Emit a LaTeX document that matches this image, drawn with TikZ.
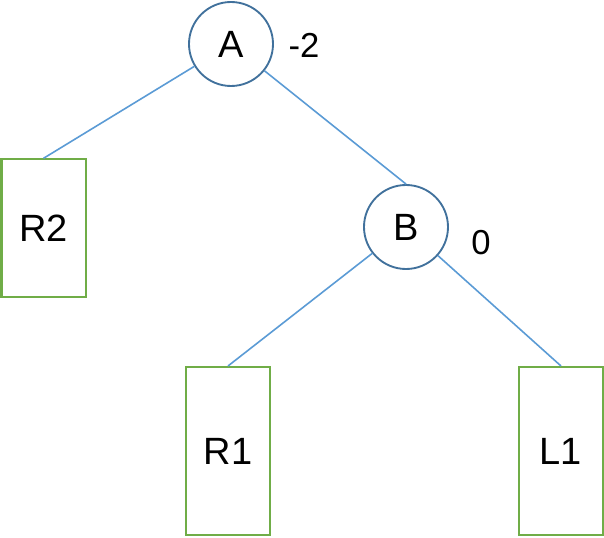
\documentclass[tikz,border=0pt]{standalone}
\usepackage{fontspec}
\setmainfont{Liberation Sans}
\usepackage{tikz}
\usetikzlibrary{shapes,positioning}
\definecolor{nodeblue}{HTML}{41719C}
\definecolor{edgeblue}{HTML}{5B9BD5}
\definecolor{leafgreen}{HTML}{70AD47}

\begin{document}
\begin{tikzpicture}[
    x=0.75pt, y=-0.75pt,
    inner/.style={circle, draw=nodeblue, line width=1.4pt, minimum size=63pt, inner sep=0pt, font=\fontsize{28.5}{32}\selectfont},
    leaf/.style={rectangle, draw=leafgreen, line width=1.5pt, minimum width=63pt, font=\fontsize{28.5}{32}\selectfont},
    balance/.style={font=\fontsize{26}{30}\selectfont},
    edge/.style={draw=edgeblue, line width=1.2pt}
]

\useasboundingbox (0,0) rectangle (604,538);

\node [inner] (A) at (231,44) {A};
\node [inner] (B) at (406,227) {B};
\node [leaf, minimum height=103pt] (R2) at (43.5,228) {R2};
\node [leaf, minimum height=126pt] (R1) at (228,451) {R1};
\node [leaf, minimum height=126pt] (L1) at (561,451) {L1};

\node [balance] (balA) at (304,45) {-2};
\node [balance] (balB) at (481,243) {0};

\draw [edge] (A) -- (R2.north);
\draw [edge] (A) -- (B.north);
\draw [edge] (B) -- (R1.north);
\draw [edge] (B) -- (L1.north);

\end{tikzpicture}
\end{document}
